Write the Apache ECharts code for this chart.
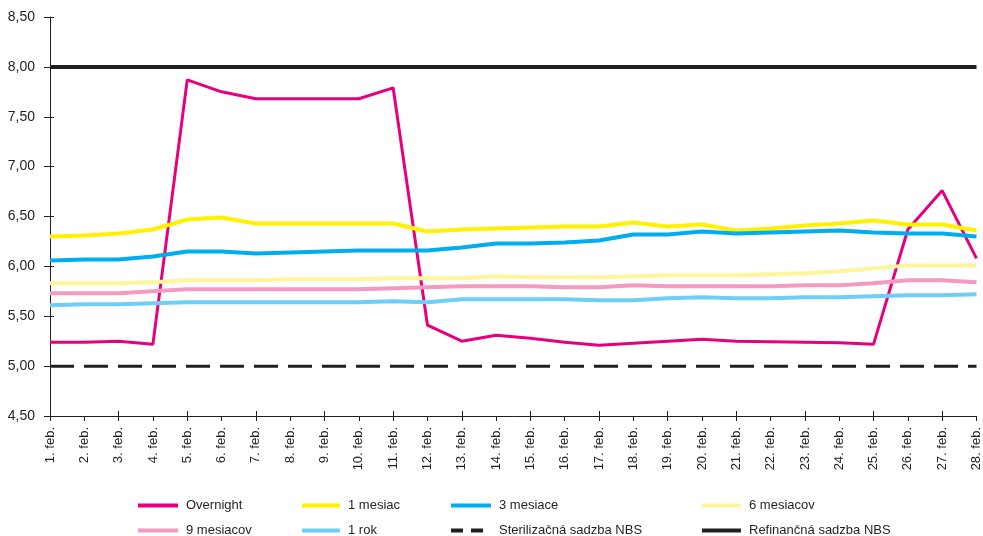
<!DOCTYPE html>
<html>
<head>
<meta charset="utf-8">
<script src="https://cdn.jsdelivr.net/npm/echarts@6/dist/echarts.min.js"></script>
<style>
    html, body { margin: 0; padding: 0; background: #fff; }
    #chart { width: 983px; height: 536px; }
</style>
</head>
<body>
<div id="chart"></div>
<script>
    // dni vo februari
    var dni = ['1. feb.', '2. feb.', '3. feb.', '4. feb.', '5. feb.', '6. feb.', '7. feb.',
        '8. feb.', '9. feb.', '10. feb.', '11. feb.', '12. feb.', '13. feb.', '14. feb.',
        '15. feb.', '16. feb.', '17. feb.', '18. feb.', '19. feb.', '20. feb.', '21. feb.',
        '22. feb.', '23. feb.', '24. feb.', '25. feb.', '26. feb.', '27. feb.', '28. feb.'];

    var overnight = [5.24, 5.24, 5.25, 5.22, 7.87, 7.75, 7.68, 7.68, 7.68, 7.68, 7.79, 5.41, 5.25, 5.31,
        5.28, 5.24, 5.21, 5.23, 5.25, 5.27, 5.25, 5.245, 5.24, 5.235, 5.22, 6.37, 6.76, 6.08];
    var mesiac1 = [6.30, 6.31, 6.33, 6.37, 6.47, 6.49, 6.43, 6.43, 6.43, 6.43, 6.43, 6.35, 6.37, 6.38,
        6.39, 6.40, 6.40, 6.44, 6.40, 6.42, 6.36, 6.38, 6.41, 6.43, 6.46, 6.42, 6.42, 6.36];
    var mesiace3 = [6.06, 6.07, 6.07, 6.10, 6.15, 6.15, 6.13, 6.14, 6.15, 6.16, 6.16, 6.16, 6.19, 6.23,
        6.23, 6.24, 6.26, 6.32, 6.32, 6.35, 6.33, 6.34, 6.35, 6.36, 6.34, 6.33, 6.33, 6.30];
    var mesiacov6 = [5.83, 5.83, 5.83, 5.84, 5.86, 5.86, 5.86, 5.87, 5.87, 5.87, 5.88, 5.88, 5.88, 5.90,
        5.89, 5.89, 5.89, 5.90, 5.91, 5.91, 5.91, 5.92, 5.93, 5.95, 5.98, 6.01, 6.01, 6.01];
    var mesiacov9 = [5.73, 5.73, 5.73, 5.75, 5.77, 5.77, 5.77, 5.77, 5.77, 5.77, 5.78, 5.79, 5.80, 5.80,
        5.80, 5.79, 5.79, 5.81, 5.80, 5.80, 5.80, 5.80, 5.81, 5.81, 5.83, 5.86, 5.86, 5.84];
    var rok1 = [5.61, 5.62, 5.62, 5.63, 5.64, 5.64, 5.64, 5.64, 5.64, 5.64, 5.65, 5.64, 5.67, 5.67,
        5.67, 5.67, 5.66, 5.66, 5.68, 5.69, 5.68, 5.68, 5.69, 5.69, 5.70, 5.71, 5.71, 5.72];
    var sterilizacna = [5.00, 5.00, 5.00, 5.00, 5.00, 5.00, 5.00, 5.00, 5.00, 5.00, 5.00, 5.00, 5.00, 5.00,
        5.00, 5.00, 5.00, 5.00, 5.00, 5.00, 5.00, 5.00, 5.00, 5.00, 5.00, 5.00, 5.00, 5.00];
    var refinancna = [8.00, 8.00, 8.00, 8.00, 8.00, 8.00, 8.00, 8.00, 8.00, 8.00, 8.00, 8.00, 8.00, 8.00,
        8.00, 8.00, 8.00, 8.00, 8.00, 8.00, 8.00, 8.00, 8.00, 8.00, 8.00, 8.00, 8.00, 8.00];

    var cierna = '#231f20';
    var pismo = 'Liberation Sans';
    var plnaIkona = 'path://M0,0 H40 V4 H0 Z';
    var prerusIkona = 'path://M0,0 H12 V4 H0 Z M20,0 H32 V4 H20 Z M40,0 H40 V4 H40 Z';

    function seria(name, data, color, width, type) {
        return {
            name: name,
            type: 'line',
            data: data,
            symbol: 'none',
            showSymbol: false,
            lineStyle: { color: color, width: width, type: type || 'solid' },
            itemStyle: { color: color },
            z: name.indexOf('NBS') > 0 ? 1 : 2
        };
    }

    // jedna legenda pre kazdu polozku, aby sedeli stlpce
    function legenda(left, top, name, icon, width) {
        return {
            left: left,
            top: top,
            itemWidth: width,
            itemHeight: 4,
            icon: icon,
            data: [name],
            textStyle: { fontFamily: pismo, fontSize: 13, color: cierna, padding: [0, 0, 0, 3] }
        };
    }

    var myChart = echarts.init(document.getElementById('chart'));
    var option = {
        animation: false,
        grid: { left: 50, right: 3, top: 17, bottom: 120 },
        legend: [
            legenda(133, 494, 'Overnight', plnaIkona, 40),
            legenda(297, 494, '1 mesiac', plnaIkona, 38),
            legenda(446, 494, '3 mesiace', plnaIkona, 40),
            legenda(697, 494, '6 mesiacov', plnaIkona, 39),
            legenda(133, 519, '9 mesiacov', plnaIkona, 40),
            legenda(297, 519, '1 rok', plnaIkona, 38),
            legenda(446, 519, 'Sterilizačná sadzba NBS', prerusIkona, 40),
            legenda(697, 519, 'Refinančná sadzba NBS', plnaIkona, 39)
        ],
        xAxis: [{
            type: 'category',
            data: dni,
            boundaryGap: false,
            axisLine: { lineStyle: { color: cierna, width: 1 } },
            axisTick: { length: 5, lineStyle: { color: cierna } },
            axisLabel: { rotate: 90, margin: 11, fontFamily: pismo, fontSize: 13, color: cierna, interval: 0 }
        }, {
            type: 'category',
            data: dni,
            boundaryGap: false,
            position: 'bottom',
            axisLine: { show: false },
            axisTick: { inside: true, length: 5, lineStyle: { color: cierna } },
            axisLabel: { show: false }
        }],
        yAxis: [{
            type: 'value',
            min: 4.5,
            max: 8.5,
            interval: 0.5,
            splitLine: { show: false },
            axisLine: { show: true, lineStyle: { color: cierna, width: 1 } },
            axisTick: { show: true, length: 6, lineStyle: { color: cierna } },
            axisLabel: {
                fontFamily: pismo, fontSize: 14, color: cierna, margin: 15,
                formatter: function (v) { return v.toFixed(2).replace('.', ','); }
            }
        }, {
            type: 'value',
            min: 4.5,
            max: 8.5,
            interval: 0.5,
            position: 'left',
            splitLine: { show: false },
            axisLine: { show: false },
            axisTick: { show: true, inside: true, length: 4, lineStyle: { color: cierna } },
            axisLabel: { show: false }
        }],
        series: [
            seria('Overnight', overnight, '#e6007e', 3),
            seria('1 mesiac', mesiac1, '#fff100', 4),
            seria('3 mesiace', mesiace3, '#00aeef', 4),
            seria('6 mesiacov', mesiacov6, '#fff59a', 4),
            seria('9 mesiacov', mesiacov9, '#f49ac1', 4),
            seria('1 rok', rok1, '#6dcff6', 4),
            seria('Sterilizačná sadzba NBS', sterilizacna, cierna, 3, [24, 10]),
            seria('Refinančná sadzba NBS', refinancna, cierna, 4)
        ]
    };
    myChart.setOption(option, true);
</script>
</body>
</html>
